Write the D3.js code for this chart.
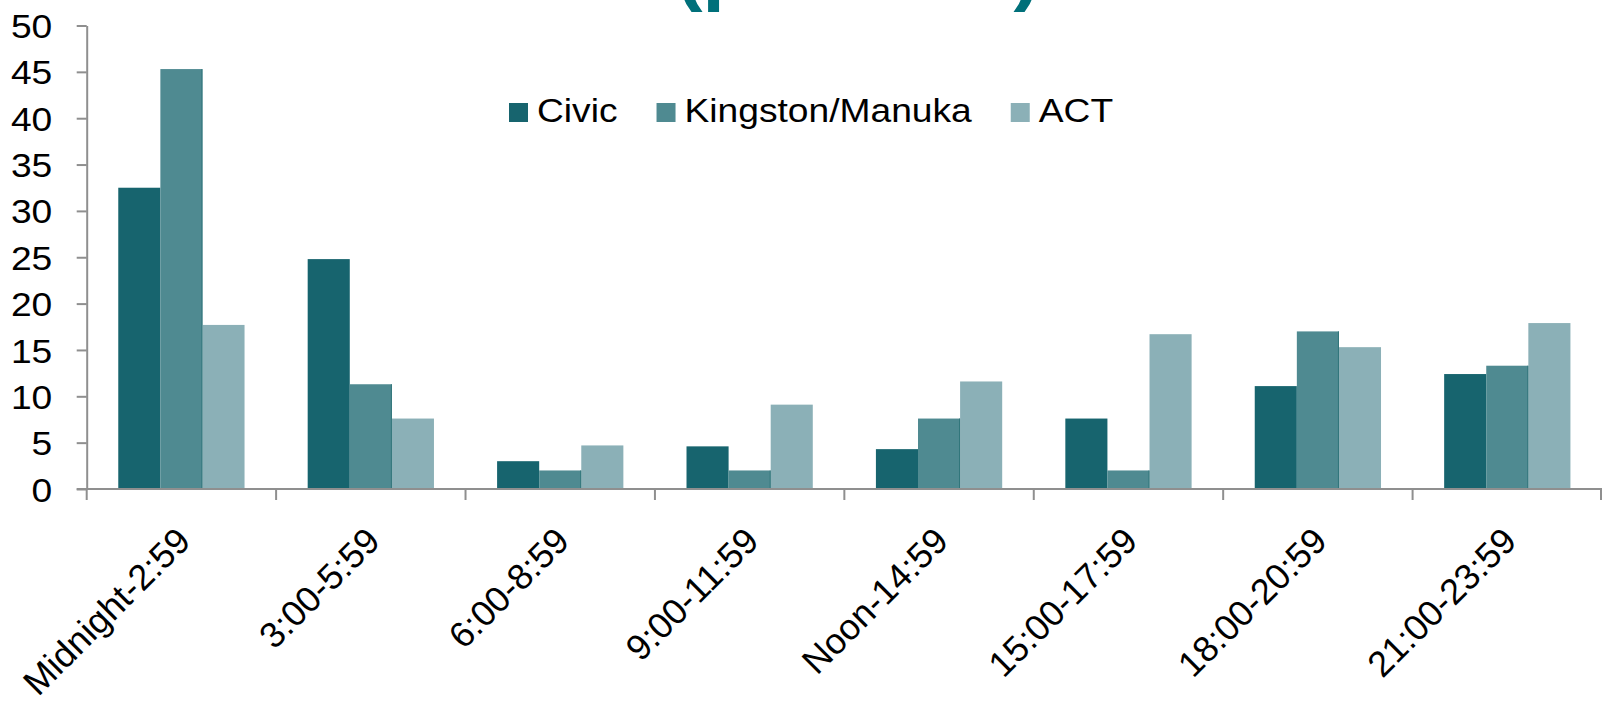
<!DOCTYPE html>
<html>
<head>
<meta charset="utf-8">
<script src="https://cdn.jsdelivr.net/npm/d3@7"></script>
<style>
	html, body { margin: 0; padding: 0; background: #ffffff; }
	svg { display: block; font-family: "Liberation Sans", Arial, sans-serif; }
</style>
</head>
<body>
<div id="chart"></div>
<script>
"use strict";

// =============== DATA ===============
var categories = ["Midnight-2:59", "3:00-5:59", "6:00-8:59", "9:00-11:59",
	"Noon-14:59", "15:00-17:59", "18:00-20:59", "21:00-23:59"];
var seriesNames = ["Civic", "Kingston/Manuka", "ACT"];
var civicValues = [32.5, 24.8, 3.0, 4.6, 4.3, 7.6, 11.1, 12.4];
var kingstonValues = [45.3, 11.3, 2.0, 2.0, 7.6, 2.0, 17.0, 13.3];
var actValues = [17.7, 7.6, 4.7, 9.1, 11.6, 16.7, 15.3, 17.9];
var yTicks = [0, 5, 10, 15, 20, 25, 30, 35, 40, 45, 50];
var titleText = "(per cent)";

// =============== LAYOUT ===============
var width = 1602,
	height = 705,
	plotLeft = 86.7,
	plotRight = 1602,
	plotTop = 25.5,
	plotBottom = 489,
	stretch = 1.11,         // the source chart text is a little wide
	fontSize = 33.5,
	labelFontSize = 36;

var colors = ["#17646e", "#4f8a91", "#8bb0b7"];
var axisColor = "#8f8f8f";

var svg = d3.select("#chart").append("svg")
	.attr("width", width)
	.attr("height", height);

// scales
var x0 = d3.scaleBand()
	.domain(categories)
	.range([plotLeft, plotRight])
	.padding(0);

var x1 = d3.scaleBand()
	.domain(seriesNames)
	.range([0, x0.bandwidth()])
	.paddingInner(0)
	.paddingOuter(0.75);

var y = d3.scaleLinear()
	.domain([0, 50])
	.range([plotBottom, plotTop]);

var color = d3.scaleOrdinal()
	.domain(seriesNames)
	.range(colors);

// rows for the grouped bars
var valuesBySeries = [civicValues, kingstonValues, actValues];
var rows = categories.map(function(c, i){
	return {
		category: c,
		values: seriesNames.map(function(s, j){
			return {series: s, value: valuesBySeries[j][i]};
		})
	};
});

// title, cut off at the top edge of the picture (as in the source)
svg.append("text")
	.attr("transform", "translate(858,-3) scale(" + stretch + ",1)")
	.attr("text-anchor", "middle")
	.style("font-size", "72px")
	.style("font-weight", "bold")
	.style("fill", "#00707a")
	.text(titleText);

// bars
var groups = svg.selectAll("g.group")
	.data(rows)
	.enter().append("g")
	.attr("class", "group")
	.attr("transform", function(d){ return "translate(" + x0(d.category) + ",0)"; });

groups.selectAll("rect")
	.data(function(d){ return d.values; })
	.enter().append("rect")
	.attr("x", function(d){ return x1(d.series); })
	.attr("y", function(d){ return y(d.value); })
	.attr("width", x1.bandwidth())
	.attr("height", function(d){ return y(0) - y(d.value); })
	.attr("fill", function(d){ return color(d.series); });

// thin darker edge on the right of the middle series
groups.selectAll("line.edge")
	.data(function(d){ return d.values.filter(function(v){ return v.series == seriesNames[1]; }); })
	.enter().append("line")
	.attr("class", "edge")
	.attr("x1", function(d){ return x1(d.series) + x1.bandwidth() - 0.5; })
	.attr("x2", function(d){ return x1(d.series) + x1.bandwidth() - 0.5; })
	.attr("y1", function(d){ return y(d.value); })
	.attr("y2", y(0))
	.attr("stroke", "#2f7479")
	.attr("stroke-width", 1);

// y axis
var yAxis = d3.axisLeft(y)
	.tickValues(yTicks)
	.tickSize(10)
	.tickPadding(21)
	.tickSizeOuter(0);

var yAxisG = svg.append("g")
	.attr("transform", "translate(" + plotLeft + ",0)")
	.call(yAxis);
yAxisG.select(".domain")
	.attr("stroke", axisColor)
	.attr("stroke-width", 2);
yAxisG.selectAll(".tick line")
	.attr("stroke", axisColor)
	.attr("stroke-width", 2);
yAxisG.selectAll(".tick text")
	.attr("transform", "scale(" + stretch + ",1)")
	.attr("dy", "0.36em")
	.style("font-size", fontSize + "px")
	.style("font-family", "'Liberation Sans', Arial, sans-serif")
	.style("fill", "#000000");

// x axis: line with ticks on the group boundaries
svg.append("line")
	.attr("x1", plotLeft - 10)
	.attr("x2", plotRight)
	.attr("y1", y(0))
	.attr("y2", y(0))
	.attr("stroke", axisColor)
	.attr("stroke-width", 2.2);

var boundaries = categories.map(function(c){ return x0(c); }).concat([x0.range()[1]]);
svg.selectAll("line.xtick")
	.data(boundaries)
	.enter().append("line")
	.attr("class", "xtick")
	.attr("x1", function(d){ return Math.min(d, width - 1); })
	.attr("x2", function(d){ return Math.min(d, width - 1); })
	.attr("y1", y(0))
	.attr("y2", y(0) + 11)
	.attr("stroke", axisColor)
	.attr("stroke-width", 2);

// rotated category labels
svg.selectAll("text.xlabel")
	.data(categories)
	.enter().append("text")
	.attr("class", "xlabel")
	.attr("transform", function(d){
		var cx = x0(d) + x0.bandwidth() / 2 + 11;
		return "translate(" + cx + "," + (y(0) + 54) + ") rotate(-45)";
	})
	.attr("text-anchor", "end")
	.style("font-size", labelFontSize + "px")
	.style("fill", "#000000")
	.text(function(d){ return d; });

// legend
var legend = svg.append("g")
	.attr("class", "legend");

var legendX = 509,
	legendY = 103,
	swatch = 19,
	swatchGap = 9,
	itemGap = 39;

seriesNames.forEach(function(s){
	var item = legend.append("g");
	item.append("rect")
		.attr("x", legendX)
		.attr("y", legendY)
		.attr("width", swatch)
		.attr("height", swatch)
		.attr("fill", color(s));
	var label = item.append("text")
		.attr("transform", "translate(" + (legendX + swatch + swatchGap) + "," + (legendY + swatch) + ") scale(" + stretch + ",1)")
		.style("font-size", fontSize + "px")
		.style("fill", "#000000")
		.text(s);
	legendX += swatch + swatchGap + label.node().getComputedTextLength() * stretch + itemGap;
});
</script>
</body>
</html>
